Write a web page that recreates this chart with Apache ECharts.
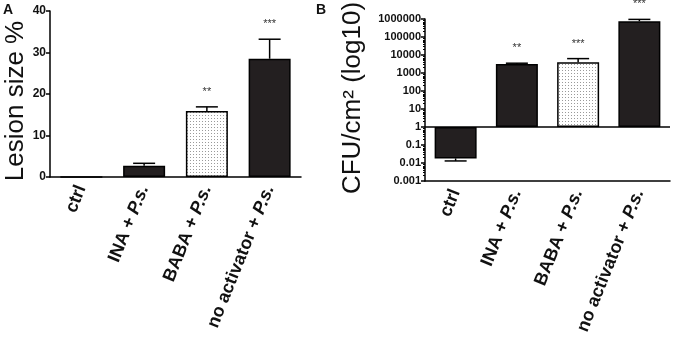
<!DOCTYPE html>
<html>
<head>
<meta charset="utf-8">
<script src="https://cdn.jsdelivr.net/npm/echarts@6/dist/echarts.min.js"></script>
<style>
html, body { margin: 0; padding: 0; background: #fff; }
#chart { width: 673px; height: 342px; }
</style>
</head>
<body>
<div id="chart"></div>
<script>
// groups on both panels
var categories = ['ctrl', 'INA + P.s.', 'BABA + P.s.', 'no activator + P.s.'];

// panel A: lesion size %
var lesionMean = [0, 2.7, 15.9, 28.5];
var lesionSem = [0, 0.6, 1.0, 4.7];
var lesionStars = ['', '', '**', '***'];
var lesionTicks = [0, 10, 20, 30, 40];

// panel B: CFU/cm2, log scale (error end = value where the whisker stops)
var cfuMean = [0.018, 3200, 3900, 750000];
var cfuErrEnd = [0.013, 3500, 6300, 950000];
var cfuStars = ['', '**', '***', '***'];

var FONT = 'Liberation Sans, Arial, sans-serif';
var BAR_DARK = '#231f20';

// dotted fill for the BABA bar
function dotPattern() {
    var c = document.createElement('canvas');
    c.width = 3; c.height = 3;
    var ctx = c.getContext('2d');
    ctx.fillStyle = '#fff';
    ctx.fillRect(0, 0, 3, 3);
    ctx.fillStyle = '#9a9a9a';
    ctx.fillRect(1, 1, 1, 1);
    return c;
}
var dots = { image: dotPattern(), repeat: 'repeat' };

function barItems(values) {
    return values.map(function (v, i) {
        return {
            value: v,
            itemStyle: { color: i === 2 ? dots : BAR_DARK }
        };
    });
}

function catLabel(name) {
    var parts = name.split('P.s.');
    if (parts.length === 1) return '{b|' + name + '}';
    return '{b|' + parts[0] + '}{i|P.s.}';
}

function xAxisFor(gridIndex) {
    return {
        type: 'category',
        gridIndex: gridIndex,
        data: categories,
        axisLine: { lineStyle: { color: '#000', width: 1.5 } },
        axisTick: { alignWithLabel: true, length: 5, lineStyle: { color: '#000', width: 1.5 } },
        axisLabel: {
            rotate: 68,
            margin: 9,
            interval: 0,
            formatter: catLabel,
            rich: {
                b: { fontFamily: FONT, fontSize: 18, fontWeight: 'bold', color: '#111' },
                i: { fontFamily: FONT, fontSize: 18, fontWeight: 'bold', fontStyle: 'italic', color: '#111' }
            }
        }
    };
}

// whisker + cap + stars, drawn through the axes
function errorRender(stars) {
    return function (params, api) {
        var i = api.value(0);
        var base = api.coord([i, api.value(1)]);
        var end = api.coord([i, api.value(2)]);
        var half = 11;
        var children = [];
        if (api.value(2) !== api.value(1)) {
            children.push({
                type: 'line',
                shape: { x1: base[0], y1: base[1], x2: end[0], y2: end[1] },
                style: { stroke: '#000', lineWidth: 1.5 }
            });
            children.push({
                type: 'line',
                shape: { x1: end[0] - half, y1: end[1], x2: end[0] + half, y2: end[1] },
                style: { stroke: '#000', lineWidth: 1.5 }
            });
        }
        if (stars[i]) {
            children.push({
                type: 'text',
                x: end[0],
                y: Math.min(end[1], base[1]) - 15,
                style: {
                    text: stars[i],
                    fontFamily: FONT,
                    fontSize: 11,
                    fill: '#333',
                    align: 'center',
                    verticalAlign: 'middle'
                }
            });
        }
        return { type: 'group', children: children };
    };
}

var lesionErrData = lesionMean.map(function (m, i) { return [i, m, m + lesionSem[i]]; });
var cfuErrData = cfuMean.map(function (m, i) { return [i, m, cfuErrEnd[i]]; });

var chart = echarts.init(document.getElementById('chart'), null, { renderer: 'canvas' });

var option = {
    animation: false,
    backgroundColor: '#fff',
    textStyle: { fontFamily: FONT },
    grid: [
        { left: 50, top: 11, width: 251, height: 166 },
        { left: 425, top: 19, width: 245, height: 162 }
    ],
    graphic: [
        { type: 'text', left: 3, top: 3, style: { text: 'A', fontFamily: FONT, fontSize: 14, fontWeight: 'bold', fill: '#111' } },
        { type: 'text', left: 316, top: 3, style: { text: 'B', fontFamily: FONT, fontSize: 14, fontWeight: 'bold', fill: '#111' } },
        {
            type: 'text', x: 16, y: 101, rotation: Math.PI / 2,
            style: { text: 'Lesion size %', fontFamily: FONT, fontSize: 26, fill: '#111', align: 'center', verticalAlign: 'middle' }
        },
        {
            type: 'text', x: 353, y: 98, rotation: Math.PI / 2,
            style: { text: 'CFU/cm² (log10)', fontFamily: FONT, fontSize: 26, fill: '#111', align: 'center', verticalAlign: 'middle' }
        }
    ],
    xAxis: [xAxisFor(0), xAxisFor(1)],
    yAxis: [
        {
            type: 'value',
            gridIndex: 0,
            min: lesionTicks[0],
            max: lesionTicks[lesionTicks.length - 1],
            interval: 10,
            splitLine: { show: false },
            axisLine: { show: true, lineStyle: { color: '#000', width: 1.5 } },
            axisTick: { show: true, length: 4, lineStyle: { color: '#000', width: 1.5 } },
            axisLabel: { margin: 4, fontFamily: FONT, fontSize: 12, fontWeight: 'bold', color: '#111' }
        },
        {
            type: 'log',
            gridIndex: 1,
            logBase: 10,
            min: 0.001,
            max: 1000000,
            interval: 1,
            splitLine: { show: false },
            axisLine: { show: true, lineStyle: { color: '#000', width: 1.5 } },
            axisTick: { show: true, length: 4, lineStyle: { color: '#000', width: 1.5 } },
            minorTick: { show: true, splitNumber: 9, length: 2, lineStyle: { color: '#000', width: 1 } },
            axisLabel: {
                margin: 4,
                fontFamily: FONT,
                fontSize: 11,
                fontWeight: 'bold',
                color: '#111',
                formatter: function (v) {
                    return v >= 1 ? String(Math.round(v)) : String(+v.toPrecision(1));
                }
            }
        }
    ],
    series: [
        {
            type: 'bar',
            xAxisIndex: 0,
            yAxisIndex: 0,
            barWidth: 42,
            data: barItems(lesionMean),
            itemStyle: { borderColor: '#000', borderWidth: 1.5 }
        },
        {
            type: 'custom',
            xAxisIndex: 0,
            yAxisIndex: 0,
            clip: false,
            z: 3,
            renderItem: errorRender(lesionStars),
            data: lesionErrData
        },
        {
            type: 'bar',
            xAxisIndex: 1,
            yAxisIndex: 1,
            barWidth: 42,
            data: barItems(cfuMean),
            itemStyle: { borderColor: '#000', borderWidth: 1.5 },
            markLine: {
                silent: true,
                symbol: 'none',
                label: { show: false },
                lineStyle: { color: '#000', type: 'solid', width: 1.5 },
                data: [{ yAxis: 1 }]
            }
        },
        {
            type: 'custom',
            xAxisIndex: 1,
            yAxisIndex: 1,
            clip: false,
            z: 3,
            renderItem: errorRender(cfuStars),
            data: cfuErrData
        }
    ]
};

chart.setOption(option);
</script>
</body>
</html>
